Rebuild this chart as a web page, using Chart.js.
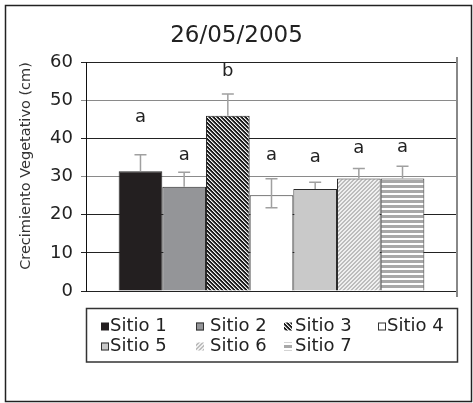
<!DOCTYPE html>
<html><head><meta charset="utf-8">
<script src="https://cdn.jsdelivr.net/npm/chart.js@4/dist/chart.umd.min.js"></script>
<style>html,body{margin:0;padding:0;background:#fff;}#wrap{width:473px;height:403px;}</style>
</head><body><div id="wrap"><canvas id="c" width="473" height="403"></canvas></div>
<script>
const chartTitle = '26/05/2005';
const yAxisTitle = 'Crecimiento Vegetativo (cm)';
const categories = ['26/05/2005'];
const seriesNames = ['Sitio 1', 'Sitio 2', 'Sitio 3', 'Sitio 4', 'Sitio 5', 'Sitio 6', 'Sitio 7'];
const values = [31.4, 27.3, 45.9, 25.1, 26.7, 29.5, 29.5];
const errPlus = [4.3, 3.8, 5.7, 4.3, 1.8, 2.6, 3.2];
const errMinus = [0, 0, 0, 3.3, 0, 0, 0];
const groupLetters = ['a', 'a', 'b', 'a', 'a', 'a', 'a'];
const letterLevels = [45.0, 35.1, 57.1, 35.1, 34.6, 36.9, 37.2];
const yMin = 0, yMax = 60, yStep = 10;

const FONT = '"DejaVu Sans", sans-serif';

function tile(w, h, fn) {
  const c = document.createElement('canvas');
  c.width = w; c.height = h;
  const g = c.getContext('2d');
  for (let y = 0; y < h; y++) for (let x = 0; x < w; x++) {
    g.fillStyle = fn(x, y); g.fillRect(x, y, 1, 1);
  }
  return g.createPattern(c, 'repeat');
}
const patDark = tile(4, 4, (x, y) => (((x - y) % 4 + 4) % 4) < 2 ? '#1a1a1a' : (((x - y) % 4 + 4) % 4) === 2 ? '#f4f4f4' : '#8a8a8a');
const patLight = tile(4, 4, (x, y) => ((x + y) % 4) < 2 ? '#bdbdbd' : '#f0f0f0');
const patHoriz = tile(1, 5, (x, y) => y < 3 ? '#a8a8a8' : '#ffffff');

const fills = ['#231f20', '#949598', patDark, '#ffffff', '#c9c9c9', patLight, patHoriz];

const datasets = seriesNames.map((n, i) => ({
  label: n,
  data: [values[i]],
  backgroundColor: fills[i],
  borderColor: '#2a2a2a',
  borderWidth: 1,
  categoryPercentage: 0.824,
  barPercentage: 1.0
}));

const decor = {
  id: 'decor',
  beforeDraw(chart) {
    const ctx = chart.ctx;
    ctx.save();
    ctx.fillStyle = '#fff';
    ctx.fillRect(0, 0, chart.width, chart.height);
    ctx.restore();
  },
  afterDraw(chart) {
    const ctx = chart.ctx;
    const ya = chart.scales.y;
    const ca = chart.chartArea;
    ctx.save();
    ctx.strokeStyle = '#222'; ctx.lineWidth = 1.5;
    ctx.strokeRect(5.5, 5.5, 466, 396);
    ctx.strokeStyle = '#888'; ctx.lineWidth = 2;
    ctx.beginPath(); ctx.moveTo(ca.right, ca.top - 5); ctx.lineTo(ca.right, ca.bottom + 6); ctx.stroke();
    ctx.fillStyle = '#222';
    ctx.font = '23px ' + FONT;
    ctx.textAlign = 'center'; ctx.textBaseline = 'middle';
    ctx.fillText(chartTitle, 236.5, 36);
    ctx.save();
    ctx.translate(26, 166);
    ctx.rotate(-Math.PI / 2);
    ctx.font = '14.5px ' + FONT;
    ctx.fillStyle = '#333';
    ctx.fillText(yAxisTitle, 0, 0);
    ctx.restore();
    chart.data.datasets.forEach((ds, i) => {
      const bar = chart.getDatasetMeta(i).data[0];
      const x = bar.x;
      const v = ds.data[0];
      const yTop = ya.getPixelForValue(v + errPlus[i]);
      const yBot = ya.getPixelForValue(v - errMinus[i]);
      const yV = ya.getPixelForValue(v);
      ctx.strokeStyle = '#a0a0a0'; ctx.lineWidth = 1.5;
      ctx.beginPath();
      ctx.moveTo(x, yTop); ctx.lineTo(x, errMinus[i] > 0 ? yBot : yV);
      ctx.moveTo(x - 6, yTop); ctx.lineTo(x + 6, yTop);
      if (errMinus[i] > 0) { ctx.moveTo(x - 6, yBot); ctx.lineTo(x + 6, yBot); }
      ctx.stroke();
      ctx.fillStyle = '#222';
      ctx.font = '18px ' + FONT;
      ctx.textAlign = 'center'; ctx.textBaseline = 'middle';
      ctx.fillText(groupLetters[i], x, ya.getPixelForValue(letterLevels[i]) - 2);
    });
    ctx.strokeStyle = '#333'; ctx.lineWidth = 1.5;
    ctx.strokeRect(86.5, 308.5, 371, 53.5);
    const swX = [101, 196, 284, 378];
    const txX = [110, 210, 295, 387];
    const rowY = [326.5, 346.5];
    ctx.font = '18px ' + FONT;
    ctx.textAlign = 'left'; ctx.textBaseline = 'middle';
    chart.data.datasets.forEach((ds, i) => {
      const col = i % 4, row = Math.floor(i / 4);
      const sx = swX[col], sy = rowY[row] - 4;
      ctx.fillStyle = ds.backgroundColor;
      ctx.fillRect(sx, sy, 8, 8);
      if (i === 1 || i === 3 || i === 4) {
        ctx.strokeStyle = '#333'; ctx.lineWidth = 1;
        ctx.strokeRect(sx + 0.5, sy + 0.5, 7, 7);
      }
      ctx.fillStyle = '#222';
      ctx.fillText(ds.label, txX[col], rowY[row]);
    });
    ctx.restore();
  }
};

new Chart(document.getElementById('c'), {
  type: 'bar',
  data: { labels: categories, datasets },
  options: {
    responsive: false,
    animation: false,
    devicePixelRatio: 1,
    layout: { padding: { left: 0, right: 16, top: 62, bottom: 112 } },
    plugins: { legend: { display: false }, title: { display: false }, tooltip: { enabled: false } },
    scales: {
      x: { display: false },
      y: {
        min: yMin, max: yMax,
        afterFit(s) { s.width = 86; },
        ticks: { stepSize: yStep, padding: 8, color: '#222', font: { family: FONT, size: 18 } },
        border: { display: true, color: '#111', width: 1 },
        grid: {
          tickLength: 5,
          lineWidth: 1,
          color: (c) => {
            const v = c.tick ? c.tick.value : 0;
            return (v === 30 || v === 50) ? '#8a8a8a' : '#222';
          }
        }
      }
    }
  },
  plugins: [decor]
});
</script></body></html>
